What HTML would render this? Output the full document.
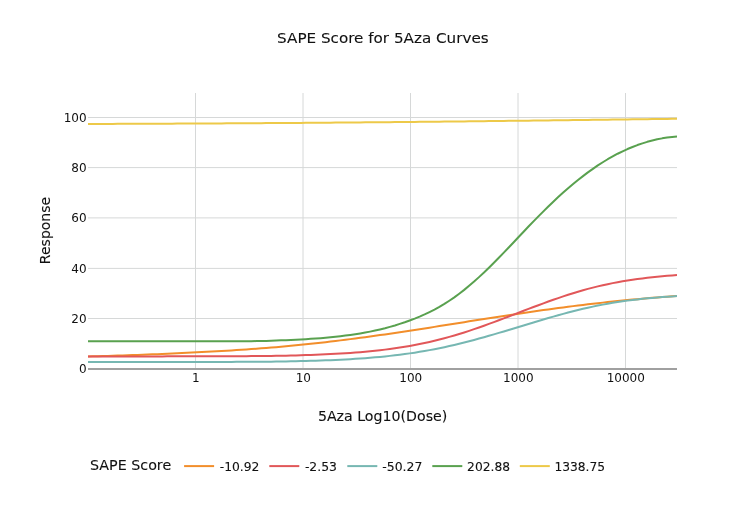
<!DOCTYPE html>
<html><head><meta charset="utf-8"><title>SAPE Score for 5Aza Curves</title>
<style>
html,body{margin:0;padding:0;background:#fff;}
svg{display:block;font-family:"DejaVu Sans","Liberation Sans",Verdana,sans-serif;fill:#111;}
text{stroke:#111;stroke-width:0.1px;}
.xt text,.yt text{stroke:none;}
.grid line{stroke:#d6d8d8;stroke-width:1;}
.tr path{fill:none;stroke-width:2;stroke-linejoin:round;}
.xt text{font-size:12px;text-anchor:middle;}
.yt text{font-size:12px;text-anchor:end;}
</style></head><body>
<svg width="739" height="507" viewBox="0 0 739 507">
<rect width="739" height="507" fill="#fff"/>
<g class="grid"><line x1="195.50" x2="195.50" y1="93.0" y2="369.0"/><line x1="303.00" x2="303.00" y1="93.0" y2="369.0"/><line x1="410.50" x2="410.50" y1="93.0" y2="369.0"/><line x1="518.00" x2="518.00" y1="93.0" y2="369.0"/><line x1="625.50" x2="625.50" y1="93.0" y2="369.0"/><line x1="88.0" x2="677.0" y1="318.50" y2="318.50"/><line x1="88.0" x2="677.0" y1="268.40" y2="268.40"/><line x1="88.0" x2="677.0" y1="217.90" y2="217.90"/><line x1="88.0" x2="677.0" y1="167.60" y2="167.60"/><line x1="88.0" x2="677.0" y1="117.50" y2="117.50"/></g>
<line x1="88.0" x2="677.0" y1="368.9" y2="368.9" stroke="#a0a0a0" stroke-width="2"/>
<g class="tr"><path d="M88.0,356.45 L92.9,356.32 L97.9,356.17 L102.8,356.03 L107.8,355.88 L112.7,355.72 L117.7,355.56 L122.6,355.39 L127.6,355.23 L132.5,355.07 L137.5,354.91 L142.4,354.74 L147.4,354.56 L152.3,354.37 L157.3,354.18 L162.2,353.98 L167.2,353.77 L172.1,353.56 L177.1,353.33 L182.0,353.10 L187.0,352.86 L191.9,352.61 L196.9,352.36 L201.8,352.10 L206.8,351.85 L211.7,351.58 L216.7,351.31 L221.6,351.03 L226.6,350.74 L231.5,350.43 L236.5,350.12 L241.4,349.79 L246.4,349.46 L251.3,349.11 L256.3,348.75 L261.2,348.37 L266.2,347.99 L271.1,347.59 L276.1,347.18 L281.0,346.75 L286.0,346.29 L290.9,345.82 L295.9,345.33 L300.8,344.84 L305.8,344.32 L310.7,343.80 L315.7,343.26 L320.6,342.71 L325.6,342.14 L330.5,341.56 L335.5,340.97 L340.4,340.37 L345.4,339.75 L350.3,339.12 L355.3,338.48 L360.2,337.83 L365.2,337.17 L370.1,336.49 L375.1,335.80 L380.0,335.10 L385.0,334.40 L389.9,333.68 L394.9,332.95 L399.8,332.22 L404.8,331.47 L409.7,330.72 L414.7,329.97 L419.6,329.20 L424.6,328.43 L429.5,327.66 L434.5,326.88 L439.4,326.09 L444.4,325.31 L449.3,324.52 L454.3,323.73 L459.2,322.94 L464.2,322.15 L469.1,321.36 L474.1,320.57 L479.0,319.79 L484.0,319.00 L488.9,318.23 L493.9,317.45 L498.8,316.68 L503.8,315.92 L508.7,315.16 L513.7,314.41 L518.6,313.66 L523.6,312.93 L528.5,312.20 L533.5,311.49 L538.4,310.78 L543.4,310.08 L548.3,309.40 L553.3,308.72 L558.2,308.06 L563.2,307.40 L568.1,306.76 L573.1,306.13 L578.0,305.52 L583.0,304.91 L587.9,304.32 L592.9,303.74 L597.8,303.18 L602.8,302.63 L607.7,302.09 L612.7,301.56 L617.6,301.05 L622.6,300.55 L627.5,300.07 L632.5,299.60 L637.4,299.14 L642.4,298.69 L647.3,298.25 L652.3,297.83 L657.2,297.42 L662.2,297.03 L667.1,296.64 L672.1,296.27 L677.0,295.91" stroke="#f28e2b"/><path d="M88.0,356.48 L92.9,356.48 L97.9,356.47 L102.8,356.47 L107.8,356.47 L112.7,356.46 L117.7,356.46 L122.6,356.45 L127.6,356.45 L132.5,356.44 L137.5,356.43 L142.4,356.42 L147.4,356.42 L152.3,356.41 L157.3,356.40 L162.2,356.38 L167.2,356.37 L172.1,356.36 L177.1,356.34 L182.0,356.33 L187.0,356.31 L191.9,356.29 L196.9,356.27 L201.8,356.25 L206.8,356.25 L211.7,356.25 L216.7,356.24 L221.6,356.24 L226.6,356.22 L231.5,356.21 L236.5,356.19 L241.4,356.16 L246.4,356.14 L251.3,356.10 L256.3,356.06 L261.2,356.02 L266.2,355.97 L271.1,355.91 L276.1,355.84 L281.0,355.77 L286.0,355.66 L290.9,355.54 L295.9,355.41 L300.8,355.27 L305.8,355.11 L310.7,354.94 L315.7,354.76 L320.6,354.56 L325.6,354.34 L330.5,354.10 L335.5,353.84 L340.4,353.56 L345.4,353.25 L350.3,352.91 L355.3,352.55 L360.2,352.15 L365.2,351.73 L370.1,351.26 L375.1,350.76 L380.0,350.21 L385.0,349.63 L389.9,348.99 L394.9,348.31 L399.8,347.57 L404.8,346.79 L409.7,345.94 L414.7,345.03 L419.6,344.07 L424.6,343.04 L429.5,341.94 L434.5,340.78 L439.4,339.55 L444.4,338.26 L449.3,336.90 L454.3,335.47 L459.2,333.98 L464.2,332.43 L469.1,330.83 L474.1,329.17 L479.0,327.46 L484.0,325.71 L488.9,323.92 L493.9,322.09 L498.8,320.25 L503.8,318.38 L508.7,316.49 L513.7,314.60 L518.6,312.70 L523.6,310.80 L528.5,308.92 L533.5,307.04 L538.4,305.19 L543.4,303.36 L548.3,301.56 L553.3,299.79 L558.2,298.07 L563.2,296.40 L568.1,294.77 L573.1,293.21 L578.0,291.71 L583.0,290.27 L587.9,288.90 L592.9,287.61 L597.8,286.38 L602.8,285.23 L607.7,284.15 L612.7,283.14 L617.6,282.19 L622.6,281.32 L627.5,280.50 L632.5,279.75 L637.4,279.05 L642.4,278.41 L647.3,277.81 L652.3,277.26 L657.2,276.76 L662.2,276.29 L667.1,275.86 L672.1,275.47 L677.0,275.10" stroke="#e15759"/><path d="M88.0,362.10 L92.9,362.10 L97.9,362.09 L102.8,362.09 L107.8,362.09 L112.7,362.08 L117.7,362.08 L122.6,362.07 L127.6,362.07 L132.5,362.06 L137.5,362.06 L142.4,362.05 L147.4,362.04 L152.3,362.03 L157.3,362.02 L162.2,362.01 L167.2,362.00 L172.1,361.99 L177.1,361.98 L182.0,361.96 L187.0,361.95 L191.9,361.93 L196.9,361.91 L201.8,361.90 L206.8,361.90 L211.7,361.90 L216.7,361.90 L221.6,361.90 L226.6,361.89 L231.5,361.88 L236.5,361.87 L241.4,361.85 L246.4,361.83 L251.3,361.80 L256.3,361.77 L261.2,361.74 L266.2,361.70 L271.1,361.65 L276.1,361.60 L281.0,361.54 L286.0,361.44 L290.9,361.34 L295.9,361.23 L300.8,361.11 L305.8,360.98 L310.7,360.84 L315.7,360.68 L320.6,360.51 L325.6,360.33 L330.5,360.13 L335.5,359.91 L340.4,359.67 L345.4,359.41 L350.3,359.13 L355.3,358.83 L360.2,358.50 L365.2,358.15 L370.1,357.76 L375.1,357.34 L380.0,356.89 L385.0,356.41 L389.9,355.88 L394.9,355.32 L399.8,354.72 L404.8,354.07 L409.7,353.38 L414.7,352.64 L419.6,351.85 L424.6,351.01 L429.5,350.13 L434.5,349.19 L439.4,348.20 L444.4,347.16 L449.3,346.06 L454.3,344.92 L459.2,343.74 L464.2,342.51 L469.1,341.23 L474.1,339.92 L479.0,338.57 L484.0,337.19 L488.9,335.78 L493.9,334.34 L498.8,332.89 L503.8,331.42 L508.7,329.93 L513.7,328.44 L518.6,326.94 L523.6,325.44 L528.5,323.94 L533.5,322.45 L538.4,320.97 L543.4,319.50 L548.3,318.05 L553.3,316.63 L558.2,315.23 L563.2,313.87 L568.1,312.54 L573.1,311.26 L578.0,310.02 L583.0,308.83 L587.9,307.69 L592.9,306.61 L597.8,305.58 L602.8,304.62 L607.7,303.71 L612.7,302.85 L617.6,302.06 L622.6,301.32 L627.5,300.63 L632.5,299.99 L637.4,299.40 L642.4,298.86 L647.3,298.35 L652.3,297.89 L657.2,297.47 L662.2,297.07 L667.1,296.71 L672.1,296.38 L677.0,296.08" stroke="#76b7b2"/><path d="M88.0,341.30 L92.9,341.30 L97.9,341.30 L102.8,341.30 L107.8,341.30 L112.7,341.30 L117.7,341.30 L122.6,341.30 L127.6,341.30 L132.5,341.30 L137.5,341.30 L142.4,341.30 L147.4,341.30 L152.3,341.30 L157.3,341.30 L162.2,341.30 L167.2,341.30 L172.1,341.30 L177.1,341.30 L182.0,341.30 L187.0,341.30 L191.9,341.30 L196.9,341.30 L201.8,341.31 L206.8,341.33 L211.7,341.35 L216.7,341.36 L221.6,341.37 L226.6,341.36 L231.5,341.35 L236.5,341.34 L241.4,341.30 L246.4,341.26 L251.3,341.20 L256.3,341.11 L261.2,341.01 L266.2,340.89 L271.1,340.73 L276.1,340.55 L281.0,340.34 L286.0,340.15 L290.9,339.94 L295.9,339.70 L300.8,339.45 L305.8,339.17 L310.7,338.85 L315.7,338.51 L320.6,338.13 L325.6,337.72 L330.5,337.26 L335.5,336.76 L340.4,336.21 L345.4,335.61 L350.3,334.95 L355.3,334.22 L360.2,333.44 L365.2,332.57 L370.1,331.62 L375.1,330.59 L380.0,329.47 L385.0,328.25 L389.9,326.91 L394.9,325.46 L399.8,323.91 L404.8,322.24 L409.7,320.46 L414.7,318.57 L419.6,316.58 L424.6,314.41 L429.5,312.08 L434.5,309.57 L439.4,306.87 L444.4,303.92 L449.3,300.73 L454.3,297.33 L459.2,293.71 L464.2,289.87 L469.1,285.80 L474.1,281.55 L479.0,277.12 L484.0,272.50 L488.9,267.72 L493.9,262.80 L498.8,257.77 L503.8,252.64 L508.7,247.44 L513.7,242.21 L518.6,236.95 L523.6,231.72 L528.5,226.53 L533.5,221.39 L538.4,216.32 L543.4,211.34 L548.3,206.47 L553.3,201.71 L558.2,197.07 L563.2,192.58 L568.1,188.24 L573.1,184.04 L578.0,179.99 L583.0,176.11 L587.9,172.38 L592.9,168.82 L597.8,165.43 L602.8,162.24 L607.7,159.23 L612.7,156.40 L617.6,153.74 L622.6,151.30 L627.5,149.04 L632.5,146.96 L637.4,145.06 L642.4,143.36 L647.3,141.84 L652.3,140.50 L657.2,139.33 L662.2,138.36 L667.1,137.57 L672.1,136.95 L677.0,136.50" stroke="#59a14f"/><path d="M88.0,123.98 L92.9,123.96 L97.9,123.95 L102.8,123.93 L107.8,123.91 L112.7,123.89 L117.7,123.87 L122.6,123.86 L127.6,123.84 L132.5,123.82 L137.5,123.80 L142.4,123.78 L147.4,123.76 L152.3,123.73 L157.3,123.71 L162.2,123.69 L167.2,123.67 L172.1,123.65 L177.1,123.62 L182.0,123.60 L187.0,123.57 L191.9,123.55 L196.9,123.52 L201.8,123.50 L206.8,123.47 L211.7,123.45 L216.7,123.42 L221.6,123.39 L226.6,123.36 L231.5,123.33 L236.5,123.31 L241.4,123.28 L246.4,123.25 L251.3,123.22 L256.3,123.18 L261.2,123.15 L266.2,123.12 L271.1,123.09 L276.1,123.05 L281.0,123.02 L286.0,122.99 L290.9,122.95 L295.9,122.92 L300.8,122.88 L305.8,122.84 L310.7,122.81 L315.7,122.77 L320.6,122.73 L325.6,122.69 L330.5,122.65 L335.5,122.61 L340.4,122.57 L345.4,122.53 L350.3,122.49 L355.3,122.45 L360.2,122.40 L365.2,122.36 L370.1,122.32 L375.1,122.27 L380.0,122.23 L385.0,122.18 L389.9,122.14 L394.9,122.09 L399.8,122.04 L404.8,121.99 L409.7,121.95 L414.7,121.90 L419.6,121.85 L424.6,121.80 L429.5,121.75 L434.5,121.70 L439.4,121.64 L444.4,121.59 L449.3,121.54 L454.3,121.49 L459.2,121.43 L464.2,121.38 L469.1,121.32 L474.1,121.27 L479.0,121.21 L484.0,121.16 L488.9,121.10 L493.9,121.05 L498.8,120.99 L503.8,120.93 L508.7,120.87 L513.7,120.81 L518.6,120.76 L523.6,120.70 L528.5,120.64 L533.5,120.58 L538.4,120.52 L543.4,120.46 L548.3,120.40 L553.3,120.34 L558.2,120.28 L563.2,120.21 L568.1,120.15 L573.1,120.09 L578.0,120.03 L583.0,119.97 L587.9,119.90 L592.9,119.84 L597.8,119.78 L602.8,119.72 L607.7,119.65 L612.7,119.59 L617.6,119.53 L622.6,119.47 L627.5,119.40 L632.5,119.34 L637.4,119.28 L642.4,119.22 L647.3,119.15 L652.3,119.09 L657.2,119.03 L662.2,118.97 L667.1,118.90 L672.1,118.84 L677.0,118.78" stroke="#edc948"/></g>
<g class="xt"><text x="195.80" y="382">1</text><text x="303.30" y="382">10</text><text x="410.80" y="382">100</text><text x="518.30" y="382">1000</text><text x="625.80" y="382">10000</text></g>
<g class="yt"><text x="86.6" y="373.20">0</text><text x="86.6" y="322.80">20</text><text x="86.6" y="272.70">40</text><text x="86.6" y="222.20">60</text><text x="86.6" y="171.90">80</text><text x="86.6" y="121.80">100</text></g>
<text x="277.1" y="43.2" font-size="14.9" textLength="211.6" lengthAdjust="spacingAndGlyphs">SAPE Score for 5Aza Curves</text>
<text x="317.9" y="421" font-size="14" textLength="129.4" lengthAdjust="spacingAndGlyphs">5Aza Log10(Dose)</text>
<text transform="translate(50.2,230.5) rotate(-90)" font-size="14" text-anchor="middle">Response</text>
<text x="90" y="470.3" font-size="14" textLength="81.2" lengthAdjust="spacingAndGlyphs">SAPE Score</text>
<line x1="184.1" x2="214.1" y1="466.1" y2="466.1" stroke="#f28e2b" stroke-width="2"/><text x="219.7" y="471" font-size="12" textLength="39.7" lengthAdjust="spacingAndGlyphs">-10.92</text><line x1="269.3" x2="299.3" y1="466.1" y2="466.1" stroke="#e15759" stroke-width="2"/><text x="304.9" y="471" font-size="12" textLength="32.1" lengthAdjust="spacingAndGlyphs">-2.53</text><line x1="347.3" x2="377.3" y1="466.1" y2="466.1" stroke="#76b7b2" stroke-width="2"/><text x="382.3" y="471" font-size="12" textLength="40.1" lengthAdjust="spacingAndGlyphs">-50.27</text><line x1="432.3" x2="462.3" y1="466.1" y2="466.1" stroke="#59a14f" stroke-width="2"/><text x="467.1" y="471" font-size="12" textLength="42.9" lengthAdjust="spacingAndGlyphs">202.88</text><line x1="519.8" x2="549.8" y1="466.1" y2="466.1" stroke="#edc948" stroke-width="2"/><text x="554.4" y="471" font-size="12" textLength="50.7" lengthAdjust="spacingAndGlyphs">1338.75</text>
</svg>
</body></html>
